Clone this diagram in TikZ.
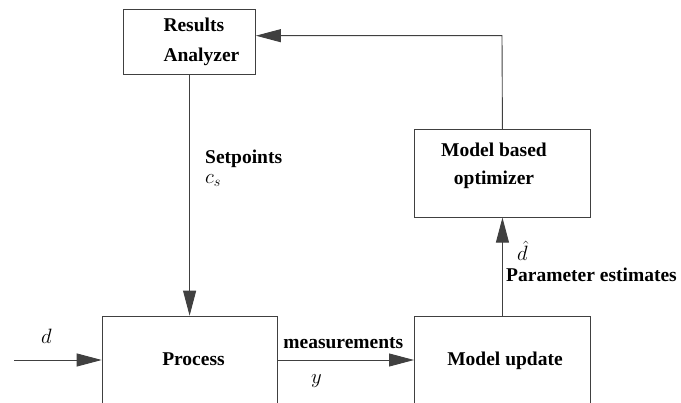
\documentclass[tikz,border=0pt]{standalone}
\usepackage{fontspec}
\setmainfont{Liberation Serif}
\usetikzlibrary{arrows.meta}
\begin{document}
\begin{tikzpicture}[x=1pt,y=-1pt,
  box/.style={draw=black!75, line width=0.9pt, inner sep=0pt, anchor=north west},
  lbl/.style={font=\fontsize{19.5}{29}\selectfont\bfseries, inner sep=0pt},
  mlbl/.style={font=\fontsize{19.5}{23}\selectfont, inner sep=0pt},
  arr/.style={draw=black!75, line width=0.9pt, -{Triangle[length=25pt,width=13pt]}}]
\useasboundingbox (0,0) rectangle (681,403);
% boxes
\node[box, minimum width=131.7pt, minimum height=65pt] (ra) at (123.3,9) {};
\node[box, minimum width=176pt, minimum height=87.4pt] (opt) at (414,129.3) {};
\node[box, minimum width=175pt, minimum height=110pt] (proc) at (101.7,315.7) {};
\node[box, minimum width=176pt, minimum height=110pt] (mu) at (414,315.7) {};
% box texts
\node[lbl, anchor=base west] (ra1) at (163.3,31.7) {Results};
\node[lbl, anchor=base west] (ra2) at (163.3,62) {Analyzer};
\node[lbl, anchor=base] (opt1) at (494,156.7) {Model based};
\node[lbl, anchor=base] (opt2) at (494,185) {optimizer};
\node[lbl, anchor=base] (proct) at (193.5,365.7) {Process};
\node[lbl, anchor=base] (mut) at (505,365.7) {Model update};
% coordinates
\coordinate (din) at (14,360);
\coordinate (ctop) at (502,35.7);
% connectors
\draw[arr] (ra.south) -- (ra.south |- proc.north);
\draw[arr] (din) -- (din -| proc.west);
\draw[arr] (proc.east |- din) -- (mu.west |- din);
\draw[arr] (mu.north) -- (opt.south);
\draw[arr] (opt.north) -- (ctop) -- (ctop -| ra.east);
% labels
\node[lbl, anchor=base west] (sp) at (205,163.3) {Setpoints};
\node[mlbl, anchor=base west] (cs) at (205,183.3) {$c_s$};
\node[lbl, anchor=base] (meas) at (343.3,349) {measurements};
\node[mlbl, anchor=base west] (yl) at (311,384) {$y$};
\node[mlbl, anchor=base west] (dl) at (41,344) {$d$};
\node[mlbl, anchor=base west] (dh) at (517,260.7) {$\hat{d}$};
\node[lbl, anchor=base west] (pe) at (506,281.7) {Parameter estimates};
\end{tikzpicture}
\end{document}
